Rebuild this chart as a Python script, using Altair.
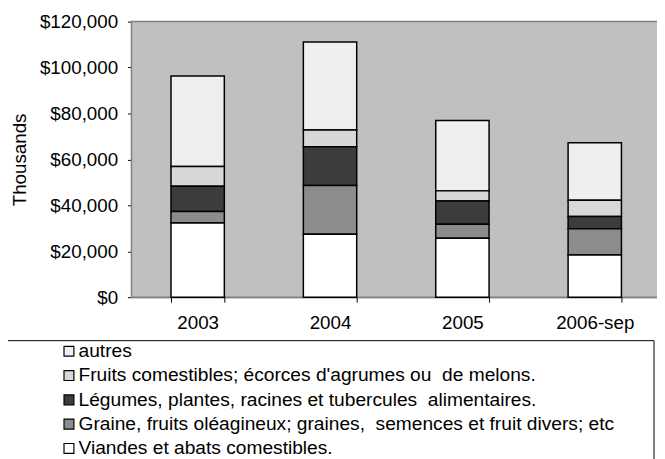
import altair as alt
import pandas as pd

years = ["2003", "2004", "2005", "2006-sep"]
categories = [
    "autres",
    "Fruits comestibles; écorces d'agrumes ou\u00a0 de melons.",
    "Légumes, plantes, racines et tubercules\u00a0 alimentaires.",
    "Graine, fruits oléagineux; graines,\u00a0 semences et fruit divers; etc",
    "Viandes et abats comestibles.",
]
viandes = [32300, 27400, 25700, 18400]
graine = [5000, 21200, 6100, 11400]
legumes = [11000, 16900, 10100, 5300]
fruits = [8600, 7300, 4400, 7100]
autres = [39400, 38300, 30600, 25100]
fills = ["#efefef", "#d8d8d8", "#3c3c3c", "#8c8c8c", "#ffffff"]
y_ticks = [0, 20000, 40000, 60000, 80000, 100000, 120000]

series = [autres, fruits, legumes, graine, viandes]
rows = []
for ci, (cat, vals) in enumerate(zip(categories, series)):
    for yr, v in zip(years, vals):
        rows.append({"year": yr, "cat": cat, "value": v, "order": 4 - ci})
df = pd.DataFrame(rows)

FS = 19

bg_df = pd.DataFrame({"k": [0]})
background = alt.Chart(bg_df).mark_rect(fill="#c0c0c0", stroke="#808080", strokeWidth=1.5).encode(
    x=alt.value(0), x2=alt.value(540), y=alt.value(0), y2=alt.value(279)
)

bars = alt.Chart(df).mark_bar(stroke="black", strokeWidth=1.5).encode(
    x=alt.X("year:N", sort=years,
            scale=alt.Scale(range=[0, 536], paddingInner=0.597, paddingOuter=0.2985),
            axis=alt.Axis(title=None, labelAngle=0, tickBand="extent", tickSize=5,
                          labelPadding=12, labelFontSize=FS, domainColor="black",
                          tickColor="black", labelColor="black")),
    y=alt.Y("value:Q", stack="zero",
            scale=alt.Scale(domain=[0, 120000], nice=False),
            axis=alt.Axis(title="Thousands", values=y_ticks, format="$,.0f", grid=False,
                          tickSize=4, labelPadding=10, labelFontSize=FS,
                          titleFontSize=FS, titleFontWeight="normal",
                          titleX=-113, titleY=139.5, titleAngle=270,
                          titleAlign="center", titleBaseline="middle",
                          domainColor="black", tickColor="black",
                          labelColor="black", titleColor="black")),
    fill=alt.Fill("cat:N", sort=categories,
                  scale=alt.Scale(domain=categories, range=fills),
                  legend=alt.Legend(title=None, orient="none", legendX=-73, legendY=324,
                                    symbolType="square", symbolSize=100,
                                    symbolStrokeColor="black", symbolStrokeWidth=1.2,
                                    labelFontSize=19.4, labelColor="black",
                                    labelOffset=0, rowPadding=3.6, padding=0,
                                    labelLimit=700)),
    order=alt.Order("order:Q", sort="ascending"),
)

box = alt.Chart(bg_df).mark_rect(fill=None, stroke="black", strokeWidth=1).encode(
    x=alt.value(-127), x2=alt.value(529), y=alt.value(323), y2=alt.value(480)
)

chart = alt.layer(background, box, bars).properties(
    width=532, height=279,
    autosize=alt.AutoSizeParams(type="none"),
    padding={"left": 125, "top": 11, "right": 0, "bottom": 161},
).configure(font="Liberation Sans").configure_view(stroke=None)

chart.save("out.html", embed_options={"renderer": "svg", "actions": False})
